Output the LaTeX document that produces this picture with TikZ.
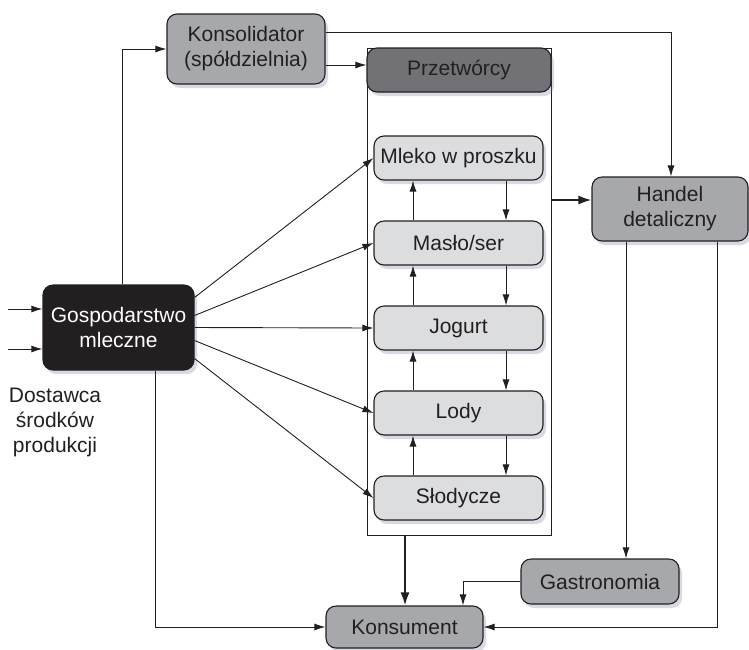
\documentclass[tikz,border=0pt]{standalone}
\usepackage{fontspec}
\setmainfont{Liberation Sans}
\usetikzlibrary{arrows.meta,shadows}
\definecolor{ink}{HTML}{231F20}
\definecolor{midgray}{HTML}{A7A8AC}
\definecolor{darkgray2}{HTML}{727276}
\definecolor{lightgray2}{HTML}{DCDDDF}
\begin{document}
\begin{tikzpicture}[x=1pt,y=-1pt,
  box/.style={draw=ink, line width=1.1pt, rounded corners=10pt, text=ink, align=center,
    inner sep=0pt, font=\fontsize{21}{25}\selectfont,
    drop shadow={shadow xshift=3pt, shadow yshift=-4pt, opacity=0.25, fill=gray!80!blue}},
  midbox/.style={box, fill=midgray},
  prodbox/.style={box, fill=lightgray2, minimum width=169pt, minimum height=44pt},
  arr/.style={draw=ink, line width=0.9pt, -{Latex[length=11pt,width=7pt]}},
  thickarr/.style={draw=ink, line width=1.9pt, -{Latex[length=13pt,width=9pt]}},
  plain/.style={draw=ink, line width=0.9pt}]
\useasboundingbox (0,0) rectangle (749,649);

% container
\node[draw=ink, line width=0.9pt, minimum width=184pt, minimum height=487pt, inner sep=0pt] (cont) at (459,291.5) {};

% nodes
\node[midbox, minimum width=158pt, minimum height=70pt] (kons) at (246,49) {Konsolidator\\(spółdzielnia)};
\node[box, fill=darkgray2, minimum width=184pt, minimum height=44pt] (przet) at (459,70) {Przetwórcy};
\node[prodbox] (mleko) at (458.5,158) {Mleko w proszku};
\node[prodbox] (maslo) at (458.5,243) {Masło/ser};
\node[prodbox] (jogurt) at (458.5,328) {Jogurt};
\node[prodbox] (lody) at (458.5,413) {Lody};
\node[prodbox] (slod) at (458.5,498) {Słodycze};
\node[midbox, minimum width=156pt, minimum height=64pt] (handel) at (670,209) {Handel\\detaliczny};
\node[box, fill=ink, text=white, minimum width=151pt, minimum height=85pt] (gosp) at (118.5,327.5) {Gospodarstwo\\mleczne};
\node[midbox, minimum width=158pt, minimum height=45pt] (gastro) at (600,581.5) {Gastronomia};
\node[midbox, minimum width=157pt, minimum height=42pt] (konsum) at (404.5,627) {Konsument};
\node[text=ink, align=center, font=\fontsize{21}{25}\selectfont] (dost) at (55,422) {Dostawca\\środków\\produkcji};

% helper coordinates
\coordinate (in1) at (8,309);
\coordinate (in2) at (8,349);
\coordinate (upx) at (413,0);
\coordinate (dnx) at (506,0);
\coordinate (ytop) at (0,32);
\coordinate (ykp) at (0,65);
\coordinate (yhd) at (0,200);
\coordinate (xgk) at (122,0);
\coordinate (xgd) at (155,0);
\coordinate (xhl) at (626,0);
\coordinate (xhr) at (717,0);
\coordinate (xgc) at (463,0);
\coordinate (xck) at (405,0);
\coordinate (hx) at (671,0);

% inputs
\draw[arr] (in1) -- (gosp.west |- in1);
\draw[arr] (in2) -- (gosp.west |- in2);

% gosp -> konsolidator
\draw[arr] (gosp.north -| xgk) |- (kons.west);
% konsolidator -> przetworcy
\draw[arr] (kons.east |- ykp) -- (przet.west |- ykp);
% konsolidator -> handel
\draw[arr] (kons.east |- ytop) -| (handel.north -| hx);

% fan
\draw[arr] ([yshift=30pt]gosp.east) -- (mleko.west);
\draw[arr] ([yshift=12pt]gosp.east) -- (maslo.west);
\draw[arr] (gosp.east) -- (jogurt.west);
\draw[arr] ([yshift=-13pt]gosp.east) -- (lody.west);
\draw[arr] ([yshift=-31pt]gosp.east) -- (slod.west);

% internal up/down arrows
\foreach \a/\b in {maslo/mleko, jogurt/maslo, lody/jogurt, slod/lody}{
  \draw[arr] (\a.north -| upx) -- (\b.south -| upx);
  \draw[arr] (\b.south -| dnx) -- (\a.north -| dnx);
}

% container -> handel
\draw[thickarr] (cont.east |- yhd) -- (handel.west |- yhd);
% container -> konsument
\draw[thickarr] (cont.south -| xck) -- (konsum.north -| xck);

% handel -> gastronomia
\draw[arr] (handel.south -| xhl) -- (gastro.north -| xhl);
% handel -> konsument
\draw[arr] (handel.south -| xhr) |- (konsum.east);
% gastronomia -> konsument
\draw[arr] (gastro.west) -| (konsum.north -| xgc);
% gosp -> konsument
\draw[arr] (gosp.south -| xgd) |- (konsum.west);
\end{tikzpicture}
\end{document}
